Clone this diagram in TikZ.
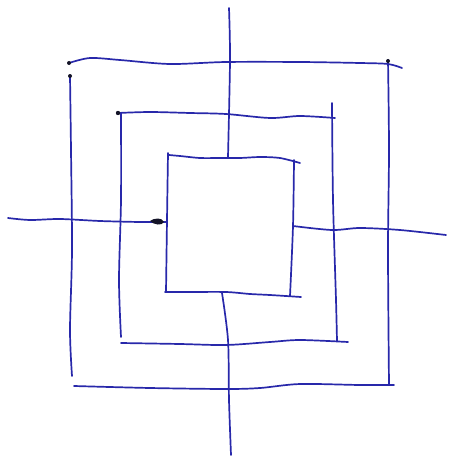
\documentclass[tikz,border=0pt]{standalone}
\definecolor{pen}{RGB}{40,40,170}
\definecolor{blob}{RGB}{20,20,40}
\begin{document}
\begin{tikzpicture}[x=1pt,y=-1pt,
  ink/.style={draw=pen, line width=1.7pt, line cap=round, line join=round},
  dotmark/.style={fill=blob}]
\useasboundingbox (0,0) rectangle (452,460);
% outer square
\draw[ink] plot[smooth] coordinates {(69,63) (90,58) (120,60) (170,64) (226,62) (300,62) (360,63) (388,64) (402,68)};
\draw[ink] plot[smooth] coordinates {(70,76) (71,150) (72,250) (70,330) (72,376)};
\draw[ink] plot[smooth] coordinates {(74,386) (150,388) (226,389) (260,388) (300,384) (360,385) (394,385)};
\draw[ink] plot[smooth] coordinates {(388,60) (389,150) (388,250) (389,385)};
% middle square
\draw[ink] plot[smooth] coordinates {(118,113) (150,112) (190,113) (226,114) (270,118) (300,116) (335,118)};
\draw[ink] plot[smooth] coordinates {(121,113) (121,200) (119,280) (121,337)};
\draw[ink] plot[smooth] coordinates {(121,343) (180,344) (226,345) (270,342) (300,340) (348,342)};
\draw[ink] plot[smooth] coordinates {(332,103) (333,200) (336,300) (337,341)};
% inner square
\draw[ink] plot[smooth] coordinates {(169,155) (180,156) (200,158) (220,158) (240,158) (260,157) (280,158) (300,163)};
\draw[ink] plot[smooth] coordinates {(168,153) (167,220) (166,292)};
\draw[ink] plot[smooth] coordinates {(165,292) (190,292) (226,292) (250,294) (270,295) (301,297)};
\draw[ink] plot[smooth] coordinates {(294,160) (293,226) (290,296)};
% crossing lines
\draw[ink] plot[smooth] coordinates {(229,8) (230,60) (228,157)};
\draw[ink] plot[smooth] coordinates {(222,293) (228,340) (229,400) (231,455)};
\draw[ink] plot[smooth] coordinates {(8,218) (30,220) (60,219) (100,221) (140,222) (167,222)};
\draw[ink] plot[smooth] coordinates {(293,226) (332,230) (360,228) (400,230) (446,235)};
% pen blobs
\fill[dotmark] (164,222) .. controls (162,217) and (154,218) .. (150,221) .. controls (154,225) and (162,226) .. (164,222);
\fill[dotmark] (118,113) circle [radius=2.2];
\fill[dotmark] (69,63) circle [radius=2];
\fill[dotmark] (70,76) circle [radius=2];
\fill[dotmark] (388,61) circle [radius=2];
\end{tikzpicture}
\end{document}
